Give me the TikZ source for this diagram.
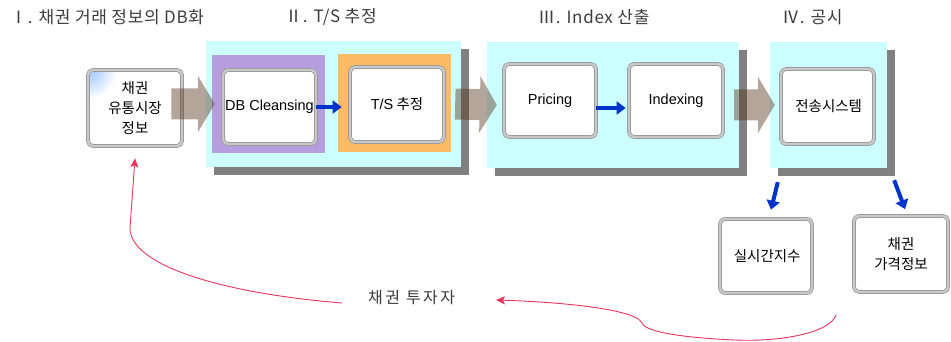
\documentclass[tikz,border=0pt]{standalone}
\usepackage{fontspec}
\setmainfont{Noto Sans CJK KR}
\newfontfamily\lat{Liberation Sans}
\newfontfamily\titlefont[LetterSpace=4]{Noto Sans CJK KR}
\newfontfamily\spacedfont[LetterSpace=15]{Noto Sans CJK KR}
\usetikzlibrary{positioning}
\usetikzlibrary{arrows.meta}
\definecolor{paneltint}{RGB}{204,255,255}
\definecolor{panelgray}{RGB}{128,128,128}
\definecolor{lavender}{RGB}{182,158,222}
\definecolor{peach}{RGB}{255,186,102}
\definecolor{boxedge}{RGB}{150,150,150}
\definecolor{boxinner}{RGB}{200,200,200}
\definecolor{fatbrown}{RGB}{89,55,33}
\definecolor{flowblue}{RGB}{0,51,204}
\definecolor{backpink}{RGB}{232,52,94}
\definecolor{titlegray}{RGB}{60,60,60}
\tikzset{panel/.style={fill=paneltint, inner sep=0pt}}
\tikzset{panelshadow/.style={fill=panelgray, inner sep=0pt}}
\tikzset{stagebox/.style={fill=white, draw=boxedge, line width=0.7pt, double=boxinner, double distance=2.4pt,
  rounded corners=5pt, inner sep=0pt, align=center, font=\fontsize{14.5}{20}\selectfont}}
\tikzset{fatarrow/.style={line width=31pt, draw=fatbrown, -{Triangle[length=17pt,width=56pt]}}}
\tikzset{flowarrow/.style={line width=4pt, draw=flowblue, -{Triangle[length=9pt,width=13pt]}}}
\tikzset{backflow/.style={draw=backpink, line width=0.9pt, -{Stealth[length=9pt,width=8pt,inset=2pt]}}}
\tikzset{stagetitle/.style={anchor=west, inner sep=0pt, text=titlegray, font=\titlefont\fontsize{17}{19}\selectfont}}

\begin{document}
\begin{tikzpicture}[x=1pt,y=-1pt]
\useasboundingbox (0,0) rectangle (951,342);

% panels with their shadows
\node[panelshadow, minimum width=255, minimum height=126] at (341.5,112) {};
\node[panelshadow, minimum width=252, minimum height=126] at (621,113) {};
\node[panelshadow, minimum width=117, minimum height=126] at (836.5,113) {};
\node[panel, minimum width=255, minimum height=126] (p1) at (333.5,104) {};
\node[panel, minimum width=252, minimum height=126] (p2) at (613,105) {};
\node[panel, minimum width=117, minimum height=126] (p3) at (828.5,105) {};
\node[fill=lavender, minimum width=113, minimum height=98] (purple) at (268.5,104) {};
\node[fill=peach, minimum width=113, minimum height=98] (orange) at (394.5,103) {};

% stage boxes
\node[stagebox, minimum width=94, minimum height=76] (src) at (135,108) {채권\\유통시장\\정보};
\begin{scope}
\clip[rounded corners=3pt] ([shift={(2.5,2.5)}]src.north west) rectangle ([shift={(-2.5,-2.5)}]src.south east);
\shade[inner color=cyan!40!blue!40, outer color=white] (src.north west) circle (30pt);
\end{scope}
\node[stagebox, minimum width=93, minimum height=74] (dbc) at (269.5,107) {\lat DB Cleansing};
\node[stagebox, minimum width=94, minimum height=75] (ts) at (397,104.5) {{\lat T/S} 추정};
\node[stagebox, minimum width=92, minimum height=73] (pri) at (550,100.5) {\lat Pricing};
\node[stagebox, minimum width=94, minimum height=73] (idx) at (676,100.5) {\lat Indexing};
\node[stagebox, minimum width=93, minimum height=75] (tx) at (827.5,106.5) {\,전송시스템};
\node[stagebox, minimum width=92, minimum height=74] (rt) at (766,256) {\,실시간지수};
\node[stagebox, minimum width=94, minimum height=76] (pb) at (901,254) {채권\\가격정보};

% big stage arrows
\begin{scope}[transparency group, opacity=.45]
\draw[fatarrow] ([xshift=-11pt]src.east |- purple.west) -- ([xshift=3pt]purple.west);
\draw[fatarrow] ([xshift=-6pt]p1.east) -- ([xshift=10pt]p2.west);
\draw[fatarrow] ([xshift=-5pt]p2.east) -- ([xshift=5pt]p3.west);
\end{scope}

% blue flow arrows
\draw[flowarrow] (dbc.east) -- ([xshift=-8pt]ts.west |- dbc.east);
\draw[flowarrow] ([yshift=-7.5pt]pri.east) -- ([xshift=-3pt,yshift=-7.5pt]idx.west);
\draw[flowarrow] ([xshift=8pt,yshift=-14pt]p3.south west) -- ([xshift=5pt,yshift=9pt]rt.north);
\draw[flowarrow] ([xshift=7pt,yshift=-12pt]p3.south east) -- ([xshift=4pt,yshift=6.5pt]pb.north);

% stage titles
\node[stagetitle] (t1) at (10,17) {Ⅰ. 채권 거래 정보의 DB화};
\node[stagetitle] (t2) at (285,17) {Ⅱ. T/S 추정};
\node[stagetitle] (t3) at (538,17) {Ⅲ. Index 산출};
\node[stagetitle] (t4) at (782,17) {Ⅳ. 공시};

% investors and feedback
\node[anchor=west, inner sep=0pt, text=titlegray, font=\spacedfont\fontsize{16}{18}\selectfont] (inv) at (368,298) {채권 투자자};
\coordinate (fb) at (836,315);
\draw[backflow] (fb) .. controls (830,333) and (780,342) .. (735,340)
  .. controls (690,338) and (646,333) .. (642,323)
  .. controls (636,309) and (560,302) .. (496,300);
\draw[backflow] ([xshift=-26pt,yshift=-5pt]inv.west) .. controls (220,293) and (130,265) .. (130,228) -- ([yshift=-12pt]src.south);
\end{tikzpicture}
\end{document}
